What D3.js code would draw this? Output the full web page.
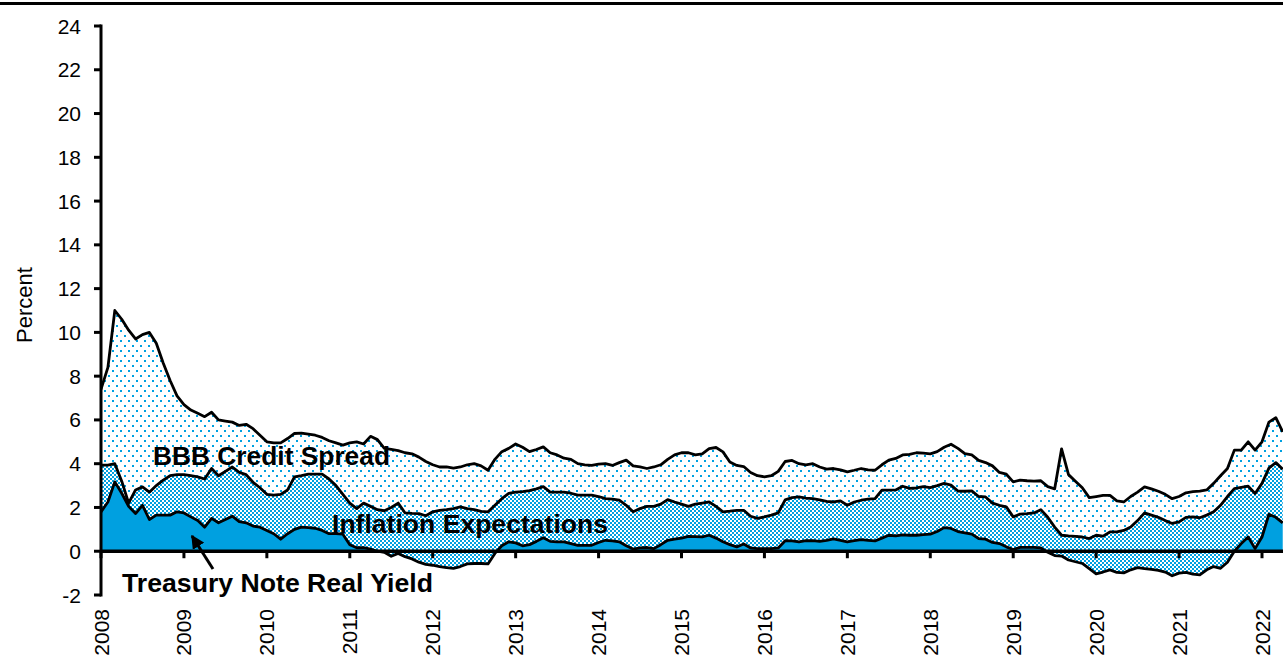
<!DOCTYPE html>
<html>
<head>
<meta charset="utf-8">
<script src="https://cdn.jsdelivr.net/npm/d3@7"></script>
<style>
  body { margin: 0; background: #fff; }
  svg { display: block; }
  text { font-family: Arial, "Liberation Sans", sans-serif; fill: #000; }
</style>
</head>
<body>
<div id="chart"></div>
<script>
// monthly values, Jan 2008 .. Apr 2022 (percent)
const years = d3.range(2008, 2023);
const yTicks = d3.range(-2, 25, 2);

// 10-yr Treasury note real yield
const realYield = [
  1.8, 2.25, 3.17, 2.65, 2.05, 1.72, 2.1, 1.45, 1.65, 1.65, 1.65, 1.8,      // 2008
  1.75, 1.57, 1.4, 1.1, 1.5, 1.3, 1.45, 1.6, 1.35, 1.3, 1.15, 1.1,          // 2009
  0.95, 0.8, 0.55, 0.8, 1.0, 1.1, 1.08, 1.05, 0.95, 0.8, 0.8, 0.78,         // 2010
  0.3, 0.16, 0.16, 0.1, 0.0, -0.05, -0.23, -0.1, -0.25, -0.35, -0.5, -0.6,  // 2011
  -0.64, -0.7, -0.75, -0.78, -0.7, -0.58, -0.56, -0.56, -0.58, -0.1, 0.25, 0.43, // 2012
  0.38, 0.25, 0.3, 0.45, 0.62, 0.45, 0.43, 0.43, 0.35, 0.27, 0.27, 0.27,    // 2013
  0.4, 0.5, 0.47, 0.43, 0.25, 0.1, 0.15, 0.17, 0.12, 0.3, 0.5, 0.55,        // 2014
  0.6, 0.68, 0.67, 0.66, 0.73, 0.6, 0.43, 0.3, 0.2, 0.33, 0.15, 0.12,       // 2015
  0.12, 0.12, 0.15, 0.48, 0.47, 0.43, 0.48, 0.48, 0.45, 0.5, 0.56, 0.5,     // 2016
  0.43, 0.48, 0.53, 0.5, 0.47, 0.6, 0.73, 0.7, 0.75, 0.73, 0.73, 0.76,      // 2017
  0.78, 0.9, 1.08, 1.04, 0.9, 0.84, 0.78, 0.58, 0.55, 0.4, 0.35, 0.2,       // 2018
  0.08, 0.18, 0.18, 0.18, 0.15, -0.05, -0.2, -0.22, -0.4, -0.48, -0.56, -0.8, // 2019
  -1.03, -0.95, -0.85, -0.97, -0.99, -0.85, -0.75, -0.79, -0.83, -0.87, -0.95, -1.12, // 2020
  -1.0, -0.97, -1.05, -1.08, -0.85, -0.7, -0.78, -0.5, 0.0, 0.35, 0.65, 0.12, // 2021
  0.65, 1.69, 1.55, 1.3                                                     // 2022
];

// nominal Treasury yield (= real yield + inflation expectations)
const treasuryYield = [
  3.93, 3.93, 4.0, 3.2, 2.2, 2.8, 2.94, 2.7, 3.0, 3.25, 3.45, 3.5,
  3.5, 3.45, 3.4, 3.3, 3.78, 3.45, 3.65, 3.85, 3.6, 3.5, 3.15, 2.9,
  2.6, 2.56, 2.6, 2.8, 3.4, 3.45, 3.52, 3.52, 3.52, 3.3, 3.0, 2.6,
  2.2, 1.95, 2.2, 2.05, 1.9, 1.85, 2.0, 2.2, 1.75, 1.73, 1.72, 1.62,
  1.8, 1.87, 1.9, 1.95, 2.03, 1.95, 1.9, 1.82, 1.8, 2.1, 2.4, 2.64,
  2.7, 2.72, 2.77, 2.85, 2.95, 2.7, 2.7, 2.7, 2.65, 2.56, 2.56, 2.56,
  2.5, 2.4, 2.38, 2.33, 2.1, 1.8, 1.95, 2.05, 2.05, 2.15, 2.36, 2.25,
  2.15, 2.05, 2.15, 2.2, 2.25, 2.05, 1.8, 1.83, 1.87, 1.87, 1.6, 1.5,
  1.57, 1.65, 1.75, 2.35, 2.45, 2.48, 2.43, 2.4, 2.35, 2.28, 2.25, 2.3,
  2.1, 2.25, 2.33, 2.38, 2.4, 2.79, 2.79, 2.8, 2.97, 2.87, 2.89, 2.95,
  2.91, 3.0, 3.1, 3.02, 2.75, 2.74, 2.76, 2.5, 2.48, 2.2, 2.1, 2.03,
  1.57, 1.7, 1.72, 1.75, 1.9, 1.55, 1.1, 0.73, 0.7, 0.68, 0.65, 0.58,
  0.73, 0.69, 0.88, 0.88, 0.95, 1.11, 1.4, 1.75, 1.65, 1.55, 1.4, 1.27,
  1.34, 1.55, 1.57, 1.53, 1.65, 1.8, 2.1, 2.5, 2.86, 2.92, 2.97, 2.64,
  3.1, 3.8, 4.05, 3.75
];

// BBB corporate yield (= treasury yield + BBB credit spread)
const bbbYield = [
  7.4, 8.4, 11.0, 10.6, 10.1, 9.7, 9.9, 10.0, 9.5, 8.6, 7.8, 7.1,
  6.7, 6.45, 6.3, 6.15, 6.35, 6.0, 5.95, 5.9, 5.75, 5.8, 5.6, 5.3,
  5.0, 4.95, 4.95, 5.15, 5.38, 5.4, 5.35, 5.3, 5.2, 5.05, 4.95, 4.85,
  4.95, 5.0, 4.9, 5.25, 5.1, 4.7, 4.65, 4.6, 4.5, 4.45, 4.3, 4.1,
  3.95, 3.85, 3.85, 3.8, 3.85, 3.95, 4.0, 3.9, 3.7, 4.2, 4.55, 4.7,
  4.9, 4.75, 4.55, 4.65, 4.77, 4.5, 4.4, 4.25, 4.2, 4.0, 3.95, 3.92,
  3.98, 4.0, 3.92, 4.05, 4.16, 3.9, 3.85, 3.78, 3.85, 3.95, 4.2, 4.4,
  4.5, 4.5, 4.4, 4.45, 4.69, 4.74, 4.54, 4.08, 3.92, 3.87, 3.6, 3.45,
  3.4, 3.45, 3.65, 4.1, 4.15, 4.0, 3.95, 4.0, 3.85, 3.75, 3.78, 3.72,
  3.63, 3.7, 3.78, 3.72, 3.7, 3.95, 4.16, 4.24, 4.4, 4.43, 4.5, 4.48,
  4.45, 4.55, 4.75, 4.89, 4.7, 4.46, 4.4, 4.15, 4.05, 3.9, 3.6, 3.52,
  3.17, 3.25, 3.22, 3.2, 3.22, 2.95, 2.85, 4.68, 3.5, 3.2, 2.9, 2.45,
  2.5, 2.55, 2.55, 2.3, 2.25, 2.5, 2.7, 2.94, 2.85, 2.74, 2.6, 2.4,
  2.5, 2.67, 2.72, 2.75, 2.8, 3.1, 3.45, 3.78, 4.62, 4.62, 5.0, 4.62,
  5.0, 5.9, 6.1, 5.45
];

const blue = "#00A0E0";
const width = 1283, height = 663;

const data = realYield.map((r, i) => ({
  t: 2008 + i / 12,
  real: r,
  nominal: treasuryYield[i],
  bbb: bbbYield[i]
}));

const x = d3.scaleLinear().domain([2008, 2022]).range([101, 1262]);
const y = d3.scaleLinear().domain([-2, 24]).range([595, 26]);

const svg = d3.select("#chart")
  .append("svg")
    .attr("width", width)
    .attr("height", height);

const defs = svg.append("defs");

// dotted fill for the credit spread
const dots = defs.append("pattern")
  .attr("id", "dots")
  .attr("patternUnits", "userSpaceOnUse")
  .attr("width", 8).attr("height", 10);
dots.append("rect").attr("width", 8).attr("height", 10).attr("fill", "#fff");
dots.append("rect").attr("x", 0).attr("y", 0).attr("width", 2).attr("height", 2).attr("fill", blue);
dots.append("rect").attr("x", 4).attr("y", 5).attr("width", 2).attr("height", 2).attr("fill", blue);

// checkerboard fill for inflation expectations
const checks = defs.append("pattern")
  .attr("id", "checks")
  .attr("patternUnits", "userSpaceOnUse")
  .attr("width", 4).attr("height", 4);
checks.append("rect").attr("width", 4).attr("height", 4).attr("fill", "#fff");
checks.append("rect").attr("x", 0).attr("y", 0).attr("width", 2).attr("height", 2).attr("fill", blue);
checks.append("rect").attr("x", 2).attr("y", 2).attr("width", 2).attr("height", 2).attr("fill", blue);

defs.append("clipPath").attr("id", "plotClip")
  .append("rect")
    .attr("x", x(2008)).attr("y", 0)
    .attr("width", width - x(2008)).attr("height", height);

defs.append("marker")
    .attr("id", "arrow")
    .attr("viewBox", "0 0 10 10")
    .attr("refX", 9).attr("refY", 5)
    .attr("markerWidth", 4.5).attr("markerHeight", 4.5)
    .attr("markerUnits", "strokeWidth")
    .attr("orient", "auto")
  .append("path")
    .attr("d", "M0,0 L10,5 L0,10 Z")
    .attr("fill", "#000");

// top rule
svg.append("line")
  .attr("x1", 0).attr("x2", width)
  .attr("y1", 3.5).attr("y2", 3.5)
  .attr("stroke", "#000").attr("stroke-width", 3);

const plot = svg.append("g").attr("clip-path", "url(#plotClip)");

// real yield (solid), then inflation band, then credit spread band
plot.append("path")
  .datum(data)
  .attr("fill", blue)
  .attr("d", d3.area().x(d => x(d.t)).y0(y(0)).y1(d => y(d.real)));

plot.append("path")
  .datum(data)
  .attr("fill", "url(#checks)")
  .attr("d", d3.area().x(d => x(d.t)).y0(d => y(d.real)).y1(d => y(d.nominal)));

plot.append("path")
  .datum(data)
  .attr("fill", "url(#dots)")
  .attr("d", d3.area().x(d => x(d.t)).y0(d => y(d.nominal)).y1(d => y(d.bbb)));

["bbb", "nominal", "real"].forEach(key => {
  plot.append("path")
    .datum(data)
    .attr("fill", "none")
    .attr("stroke", "#000")
    .attr("stroke-width", 2.8)
    .attr("stroke-linejoin", "round")
    .attr("d", d3.line().x(d => x(d.t)).y(d => y(d[key])));
});

// zero line with year ticks
svg.append("line")
  .attr("x1", x(2008)).attr("x2", width)
  .attr("y1", y(0)).attr("y2", y(0))
  .attr("stroke", "#000").attr("stroke-width", 3.5);

svg.selectAll(".xtick")
  .data(years)
  .join("line")
    .attr("class", "xtick")
    .attr("x1", d => x(d)).attr("x2", d => x(d))
    .attr("y1", y(0)).attr("y2", y(0) + 7)
    .attr("stroke", "#000").attr("stroke-width", 3);

svg.selectAll(".xlabel")
  .data(years)
  .join("text")
    .attr("class", "xlabel")
    .attr("transform", d => `translate(${x(d)}, 609) rotate(-90)`)
    .attr("text-anchor", "end")
    .attr("dy", "0.36em")
    .style("font-size", "21px")
    .text(d => d);

// y axis
svg.append("line")
  .attr("x1", x(2008)).attr("x2", x(2008))
  .attr("y1", y(24) - 1.5).attr("y2", y(-2) + 1.5)
  .attr("stroke", "#000").attr("stroke-width", 3);

svg.selectAll(".ytick")
  .data(yTicks)
  .join("line")
    .attr("class", "ytick")
    .attr("x1", x(2008) - 7).attr("x2", x(2008))
    .attr("y1", d => y(d)).attr("y2", d => y(d))
    .attr("stroke", "#000").attr("stroke-width", 3);

svg.selectAll(".ylabel")
  .data(yTicks)
  .join("text")
    .attr("class", "ylabel")
    .attr("x", 81)
    .attr("y", d => y(d))
    .attr("dy", "0.36em")
    .attr("text-anchor", "end")
    .style("font-size", "21px")
    .text(d => d);

svg.append("text")
  .attr("transform", "translate(32, 305) rotate(-90)")
  .attr("text-anchor", "middle")
  .style("font-size", "22px")
  .text("Percent");

// series annotations
const labels = [
  { text: "BBB Credit Spread", x: 153, y: 465, w: 237 },
  { text: "Inflation Expectations", x: 332, y: 533, w: 276 },
  { text: "Treasury Note Real Yield", x: 122, y: 592, w: 311 }
];

svg.selectAll(".series-label")
  .data(labels)
  .join("text")
    .attr("class", "series-label")
    .attr("x", d => d.x)
    .attr("y", d => d.y)
    .attr("textLength", d => d.w)
    .attr("lengthAdjust", "spacingAndGlyphs")
    .style("font-size", "25px")
    .style("font-weight", "bold")
    .text(d => d.text);

svg.append("line")
  .attr("x1", 213).attr("y1", 569)
  .attr("x2", 192).attr("y2", 536)
  .attr("stroke", "#000").attr("stroke-width", 3)
  .attr("marker-end", "url(#arrow)");
</script>
</body>
</html>
